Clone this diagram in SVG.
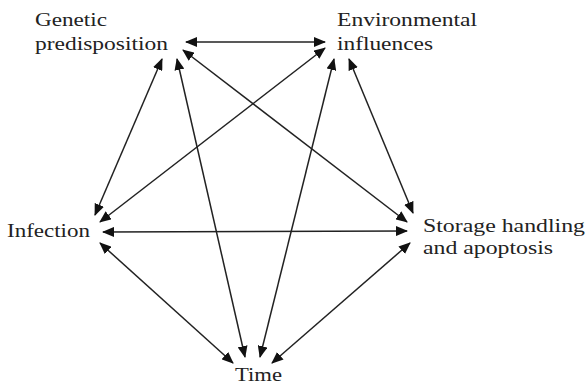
<svg xmlns="http://www.w3.org/2000/svg" width="588" height="386" viewBox="0 0 588 386">
<style>
text{font-family:"Liberation Serif","Times New Roman",serif;font-size:19px;fill:#222}
.c line{stroke:#222;stroke-width:1.5;fill:none;marker-start:url(#ah);marker-end:url(#ah)}
</style>
<defs>
<marker id="ah" markerUnits="userSpaceOnUse" markerWidth="12" markerHeight="10" refX="11" refY="5" orient="auto-start-reverse" viewBox="0 0 12 10">
<path d="M0,0 L12,5 L0,10 Z" fill="#111"/>
</marker>
</defs>
<rect width="588" height="386" fill="#fff"/>
<g id="genetic">
<text x="35" y="26" textLength="72" lengthAdjust="spacingAndGlyphs">Genetic</text>
<text x="35" y="50" textLength="133" lengthAdjust="spacingAndGlyphs">predisposition</text>
</g>
<g id="environmental">
<text x="337" y="26" textLength="140" lengthAdjust="spacingAndGlyphs">Environmental</text>
<text x="337" y="50" textLength="96" lengthAdjust="spacingAndGlyphs">influences</text>
</g>
<g id="infection">
<text x="7" y="237" textLength="83" lengthAdjust="spacingAndGlyphs">Infection</text>
</g>
<g id="storage">
<text x="423" y="232" textLength="162" lengthAdjust="spacingAndGlyphs">Storage handling</text>
<text x="423" y="254" textLength="130" lengthAdjust="spacingAndGlyphs">and apoptosis</text>
</g>
<g id="time">
<text x="235" y="381" textLength="47" lengthAdjust="spacingAndGlyphs">Time</text>
</g>
<g id="connectors" class="c">
<line x1="186" y1="42" x2="325" y2="42"/>
<line x1="183" y1="50" x2="407" y2="222"/>
<line x1="162" y1="59" x2="95" y2="215"/>
<line x1="177" y1="59" x2="245" y2="357"/>
<line x1="325" y1="48" x2="100" y2="222"/>
<line x1="334" y1="59" x2="260" y2="357"/>
<line x1="349" y1="59" x2="413" y2="213"/>
<line x1="103" y1="232" x2="407" y2="231"/>
<line x1="100" y1="243" x2="233" y2="363"/>
<line x1="410" y1="243" x2="272" y2="363"/>
</g>
</svg>
